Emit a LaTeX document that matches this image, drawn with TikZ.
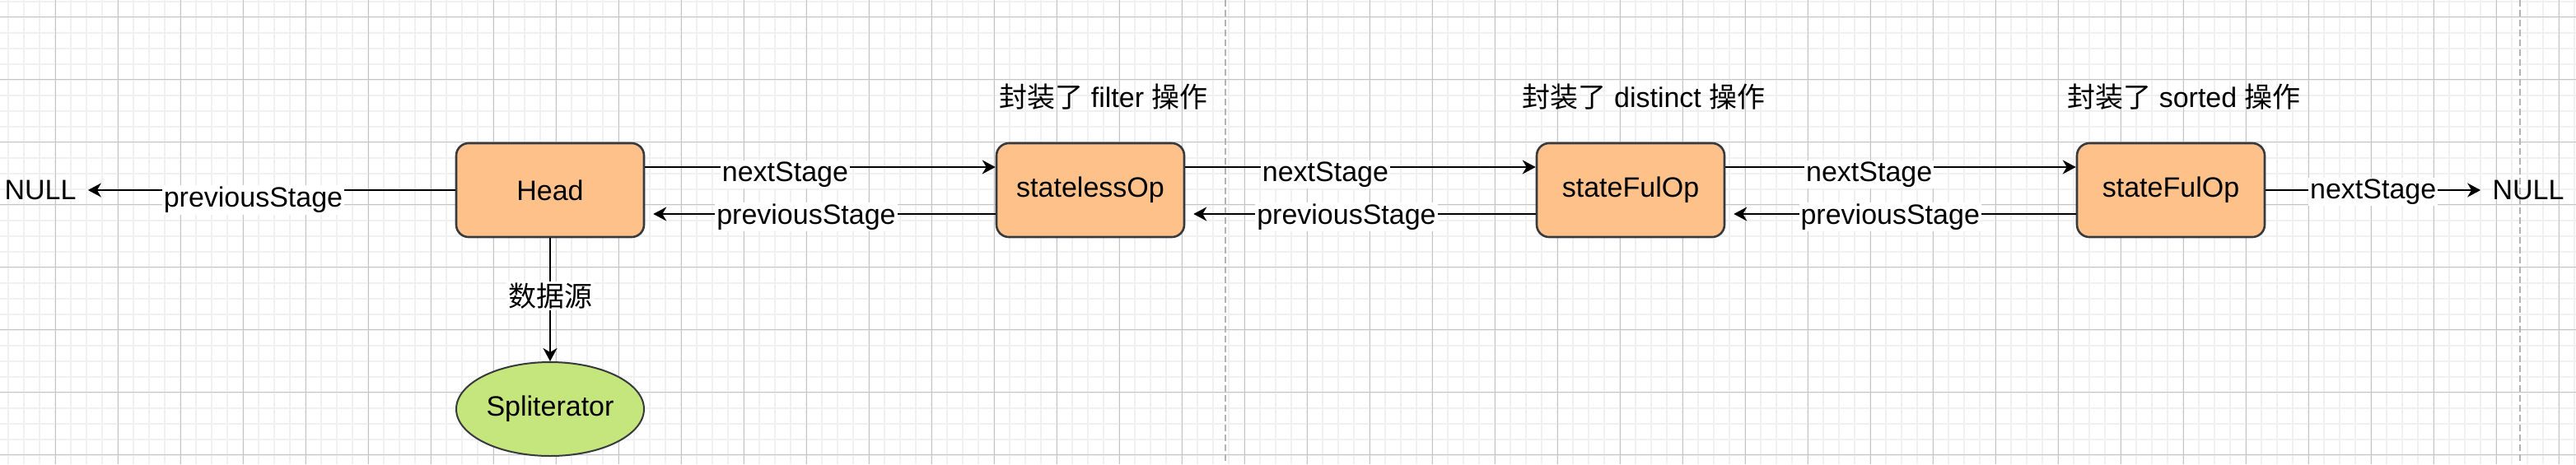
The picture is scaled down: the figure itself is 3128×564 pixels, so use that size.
\documentclass[tikz,border=0pt]{standalone}
\usepackage{fontspec}
\setmainfont{Liberation Sans}
\newfontfamily\cjk{Noto Sans CJK SC}
\usetikzlibrary{shapes.geometric,arrows.meta}
\definecolor{stagefill}{HTML}{FFC18A}
\definecolor{sourcefill}{HTML}{C5E67C}
\definecolor{boxline}{HTML}{36393D}
\definecolor{gridminor}{HTML}{F0F0F0}
\definecolor{gridmajor}{HTML}{C4C4C4}
\definecolor{pagegray}{HTML}{B3B3B3}
\begin{document}
\begin{tikzpicture}[
        x=0.5pt, y=-0.5pt,
        font=\fontsize{17}{20}\selectfont,
        stage/.style={draw=boxline, line width=1.3pt, fill=stagefill, rounded corners=7.5pt,
            minimum width=114pt, minimum height=57pt, inner sep=0pt},
        source/.style={draw=boxline, line width=1pt, fill=sourcefill, ellipse,
            minimum width=114pt, minimum height=57pt, inner sep=0pt},
        null/.style={inner xsep=7pt},
        forward/.style={-{Stealth[length=8pt, width=8.5pt, inset=2.5pt]}, line width=1pt},
        back/.style={forward, shorten >=5pt},
        label/.style={fill=white, inner sep=1pt},
        minor/.style={draw=gridminor, line width=1pt},
        major/.style={draw=gridmajor, line width=0.5pt},
        pagebreak/.style={draw=pagegray, line width=1pt, dash pattern=on 4pt off 2pt}
    ]
        \useasboundingbox (0, 0) rectangle (3128, 564);
        % canvas grid
        \fill[white] (0, 0) rectangle (3128, 564);
        \foreach \gx in {10.3, 29.3, ..., 3128} \draw[minor] (\gx, 0) -- (\gx, 564);
        \foreach \gy in {1.7, 20.7, ..., 564} \draw[minor] (0, \gy) -- (3128, \gy);
        \foreach \gx in {67.3, 143.3, ..., 3128} \draw[major] (\gx, 0) -- (\gx, 564);
        \foreach \gy in {20.7, 96.7, ..., 564} \draw[major] (0, \gy) -- (3128, \gy);
        \draw[pagebreak] (1488, 0) -- (1488, 564);
        \draw[pagebreak] (3060, 0) -- (3060, 564);

        % stages
        \node[stage] (head) at (668, 231) {Head};
        \node[stage] (stateless) at (1324, 231) {statelessOp};
        \node[stage] (distinct) at (1980, 231) {stateFulOp};
        \node[stage] (sorted) at (2636, 231) {stateFulOp};
        \node[source] (spliterator) at (668, 497) {Spliterator};
        \node[null] (nullleft) at (49, 231) {NULL};
        \node[null] (nullright) at (3070, 231) {NULL};

        \node (filtertitle) at (1340, 118) {{\cjk 封装了} filter {\cjk 操作}};
        \node (distincttitle) at (1996, 118) {{\cjk 封装了} distinct {\cjk 操作}};
        \node (sortedtitle) at (2652, 118) {{\cjk 封装了} sorted {\cjk 操作}};

        \draw[forward] (head) -- node[label, pos=0.55, yshift=-6pt] {previousStage} (nullleft);
        \draw[forward] (head) -- node[label, pos=0.47] {\cjk 数据源} (spliterator);

        \draw[forward] ([yshift=14pt]head.east) -- node[label, pos=0.4, yshift=-4.5pt] {nextStage} ([yshift=14pt]stateless.west);
        \draw[back] ([yshift=-14.5pt]stateless.west) -- node[label, pos=0.54, yshift=-1.75pt] {previousStage} ([yshift=-14.5pt]head.east);
        \draw[forward] ([yshift=14pt]stateless.east) -- node[label, pos=0.4, yshift=-4.5pt] {nextStage} ([yshift=14pt]distinct.west);
        \draw[back] ([yshift=-14.5pt]distinct.west) -- node[label, pos=0.54, yshift=-1.75pt] {previousStage} ([yshift=-14.5pt]stateless.east);
        \draw[forward] ([yshift=14pt]distinct.east) -- node[label, pos=0.41, yshift=-4.5pt] {nextStage} ([yshift=14pt]sorted.west);
        \draw[back] ([yshift=-14.5pt]sorted.west) -- node[label, pos=0.53, yshift=-1.75pt] {previousStage} ([yshift=-14.5pt]distinct.east);
        \draw[forward] (sorted) -- node[label, yshift=-1pt] {nextStage} (nullright);
    \end{tikzpicture}
\end{document}
